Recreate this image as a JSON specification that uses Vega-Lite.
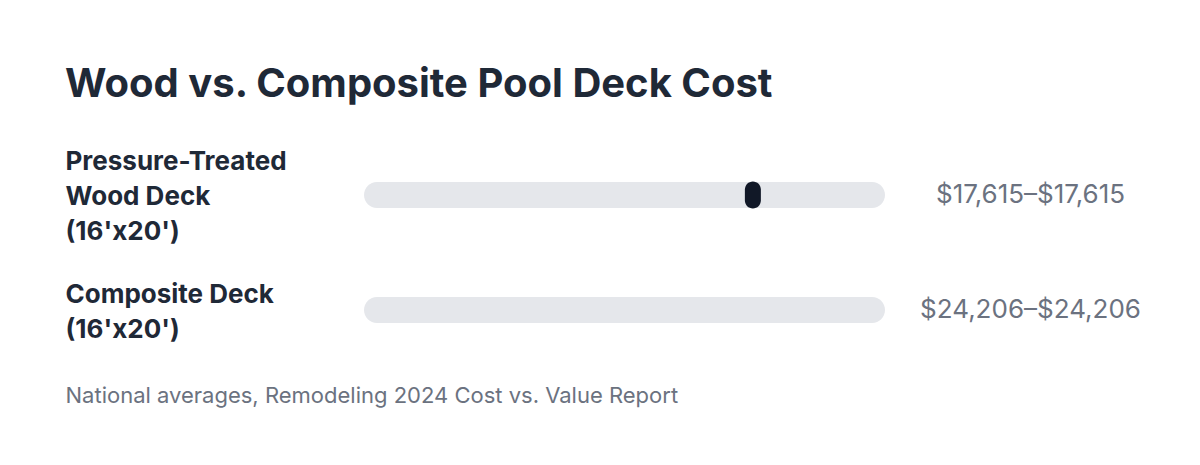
{
  "$schema": "https://vega.github.io/schema/vega-lite/v6.json",
  "width": 521,
  "height": 230,
  "autosize": "none",
  "padding": {"left": 364, "top": 137.5, "right": 315, "bottom": 97.5},
  "background": "white",
  "config": {"view": {"stroke": null}, "font": "Inter"},
  "title": {
    "text": "Wood vs. Composite Pool Deck Cost",
    "anchor": "start",
    "frame": "group",
    "dx": -299,
    "offset": 1,
    "baseline": "alphabetic",
    "font": "Inter",
    "fontSize": 40,
    "fontWeight": 700,
    "color": "#1f2937"
  },
  "data": {
    "values": [
      {"item": "Pressure-Treated|Wood Deck|(16'x20')", "low": 17615, "high": 17615, "range": "$17,615–$17,615"},
      {"item": "Composite Deck|(16'x20')", "low": 24206, "high": 24206, "range": "$24,206–$24,206"}
    ]
  },
  "layer": [
    {
      "mark": {"type": "bar", "size": 26, "cornerRadius": 13, "color": "#e5e7eb"},
      "encoding": {
        "y": {
          "field": "item",
          "type": "nominal",
          "sort": null,
          "scale": {"type": "band", "paddingInner": 0, "paddingOuter": 0},
          "axis": {
            "title": null,
            "domain": false,
            "ticks": false,
            "tickSize": 0,
            "labelExpr": "split(datum.label, '|')",
            "labelAlign": "left",
            "labelBaseline": "middle",
            "labelOffset": {"condition": {"test": "indexof(datum.value, 'Pressure') >= 0", "value": -33}, "value": -15.5},
            "labelPadding": 299,
            "labelLimit": 400,
            "labelFont": "Inter",
            "labelFontSize": 26,
            "labelFontWeight": 700,
            "labelLineHeight": 35,
            "labelColor": "#1f2937"
          }
        },
        "x": {
          "datum": 0,
          "type": "quantitative",
          "scale": {"domain": [0, 23600], "nice": false, "zero": false},
          "axis": {
            "labels": false,
            "ticks": false,
            "domain": false,
            "grid": false,
            "title": "National averages, Remodeling 2024 Cost vs. Value Report",
            "titleFont": "Inter",
            "titleFontSize": 22,
            "titleFontWeight": 400,
            "titleColor": "#6b7280",
            "titleAnchor": "start",
            "titleAlign": "left",
            "titleBaseline": "alphabetic",
            "titleX": -299,
            "titleY": 35
          }
        },
        "x2": {"datum": 23600}
      }
    },
    {
      "mark": {"type": "tick", "thickness": 16, "size": 27, "cornerRadius": 8, "color": "#111827", "clip": true, "opacity": 1},
      "encoding": {
        "y": {
          "field": "item",
          "type": "nominal",
          "sort": null,
          "scale": {"type": "band", "paddingInner": 0, "paddingOuter": 0},
          "axis": null
        },
        "x": {"field": "low", "type": "quantitative"}
      }
    },
    {
      "mark": {"type": "bar", "opacity": 0},
      "encoding": {
        "y": {
          "field": "range",
          "type": "nominal",
          "sort": null,
          "scale": {"type": "band", "paddingInner": 0, "paddingOuter": 0},
          "axis": {
            "orient": "right",
            "title": null,
            "domain": false,
            "ticks": false,
            "tickSize": 0,
            "labelAlign": "center",
            "labelBaseline": "middle",
            "labelPadding": 145,
            "labelLimit": 400,
            "labelFont": "Inter",
            "labelFontSize": 26,
            "labelFontWeight": 400,
            "labelColor": "#6b7280"
          }
        },
        "x": {"datum": 0, "type": "quantitative"},
        "x2": {"datum": 0}
      }
    }
  ],
  "resolve": {"scale": {"y": "independent"}, "axis": {"y": "independent"}}
}
